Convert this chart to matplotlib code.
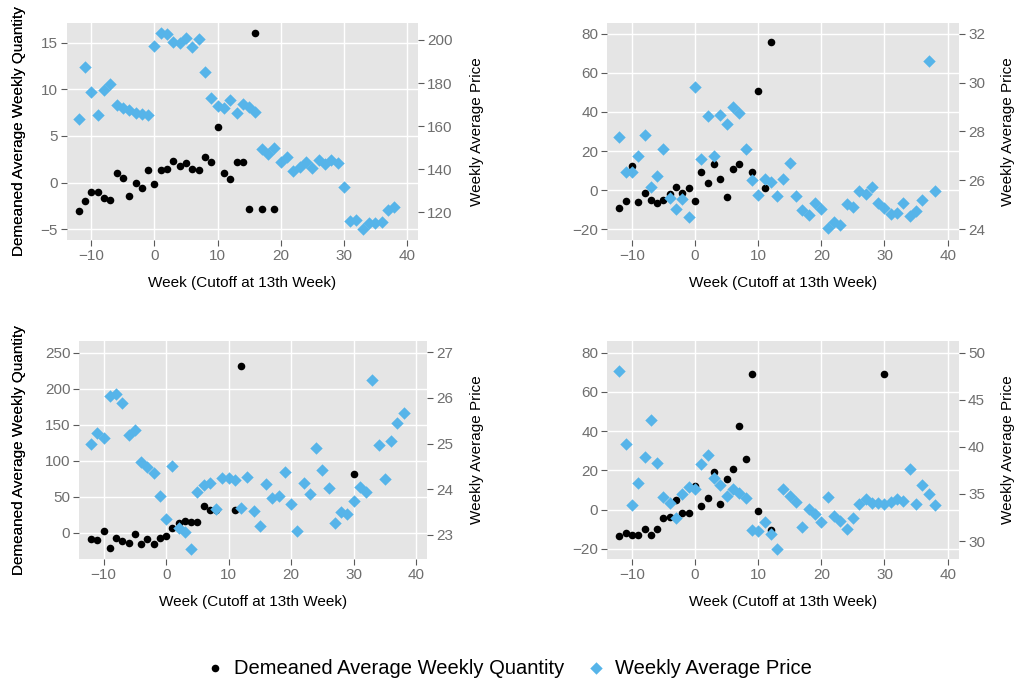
import numpy as np
import matplotlib
matplotlib.use('Agg')
import matplotlib.pyplot as plt

matplotlib.rc('font', family=['Liberation Sans', 'DejaVu Sans'])

nan = np.nan
weeks = list(range(-12, 39))

# top-left panel
q1 = [-3.0, -2.0, -1.0, -1.0, -1.6, -1.9, 1.0, 0.5, -1.4, 0.0, -0.6, 1.4,
      -0.1, 1.4, 1.5, 2.3, 1.8, 2.1, 1.5, 1.3, 2.7, 2.2, 6.0, 1.0, 0.4, 2.2,
      2.2, -2.8, 16.0, -2.8, nan, -2.8]
p1 = [163.2, 187.5, 175.9, 165.3, 176.8, 179.6, 169.8, 168.6, 167.5, 166.0,
      165.5, 165.0, 197.1, 203.1, 202.6, 199.1, 198.5, 201.1, 196.8, 200.3,
      185.1, 173.2, 169.4, 168.6, 172.1, 166.3, 170.4, 169.0, 166.6, 149.2,
      147.1, 149.7, 143.5, 145.5, 139.3, 141.2, 143.4, 140.7, 144.3, 142.3,
      144.1, 142.7, 131.7, 116.0, 116.6, 112.1, 114.9, 115.2, 115.5, 120.8,
      122.3]

# top-right panel
q2 = [-9.2, -5.4, 12.6, -5.8, -1.4, -4.9, -6.5, -5.1, -1.9, 1.4, -1.5, 1.0,
      -5.3, 9.4, 3.6, 13.6, 5.8, -3.6, 10.7, 13.3, 21.1, 9.2, 50.9, 0.9, 75.9]
p2 = [27.79, 26.34, 26.33, 27.01, 27.86, 25.74, 26.18, 27.28, 25.28, 24.82,
      25.24, 24.50, 29.80, 26.89, 28.65, 26.98, 28.67, 28.31, 28.99, 28.75,
      27.30, 26.02, 25.42, 26.07, 25.93, 25.38, 26.04, 26.71, 25.34, 24.78,
      24.60, 25.06, 24.83, 24.05, 24.30, 24.19, 25.04, 24.91, 25.58, 25.46,
      25.72, 25.08, 24.87, 24.63, 24.68, 25.06, 24.56, 24.74, 25.21, 30.88,
      25.57]

# bottom-left panel
q3 = [-8.8, -10.2, 2.8, -21.8, -7.4, -11.1, -13.9, -2.3, -15.3, -8.3, -16.2,
      -6.9, -4.2, 6.0, 13.4, 16.2, 14.4, 14.4, 37.5, 31.0, 31.5, nan, nan,
      31.0, 231.5] + [nan] * 17 + [81.5]
p3 = [25.00, 25.22, 25.11, 26.05, 26.09, 25.88, 25.18, 25.30, 24.60, 24.49,
      24.36, 23.85, 23.34, 24.50, 23.15, 23.06, 22.69, 23.93, 24.09, 24.13,
      23.57, 24.24, 24.24, 24.20, 23.59, 24.27, 23.52, 23.18, 24.11, 23.81,
      23.85, 24.37, 23.68, 23.08, 24.13, 23.89, 24.90, 24.41, 24.02, 23.25,
      23.49, 23.45, 23.73, 24.05, 23.94, 26.40, 24.96, 24.23, 25.06, 25.44,
      25.68]

# bottom-right panel
q4 = [-13.3, -12.2, -13.1, -13.1, -9.9, -13.1, -9.9, -4.4, -3.7, 4.6, -1.7,
      -1.9, 11.9, 2.0, 6.1, 19.2, 2.9, 15.8, 20.7, 42.5, 25.9, 69.2, -0.9,
      nan, -10.7] + [nan] * 17 + [69.2]
p4 = [48.05, 40.34, 33.79, 36.16, 38.96, 42.81, 38.25, 34.71, 34.04, 32.44,
      34.96, 35.77, 35.49, 38.18, 39.13, 36.73, 35.91, 34.78, 35.49, 35.13,
      34.53, 31.13, 31.03, 31.98, 30.74, 29.19, 35.49, 34.78, 34.18, 31.49,
      33.40, 32.87, 31.98, 34.67, 32.62, 32.12, 31.24, 32.41, 33.96, 34.42,
      34.00, 34.00, 33.96, 34.14, 34.46, 34.21, 37.61, 33.93, 35.95, 34.96,
      33.79]

blue = '#56B4E9'
xlabel = 'Week (Cutoff at 13th Week)'
qlabel = 'Demeaned Average Weekly Quantity'
plabel = 'Weekly Average Price'

W, H = 1017, 687
fig = plt.figure(figsize=(W / 100, H / 100), dpi=100)

# panel boxes in pixels (left, top, right, bottom) and label positions
panels = [
    dict(box=(66.7, 22.7, 418.3, 240.0), q=q1, p=p1, ql=(-6.15, 17.14),
         pl=(107.1, 208.0), qt=[-5, 0, 5, 10, 15], pt=[120, 140, 160, 180, 200],
         rlab=470.5),
    dict(box=(607.3, 22.7, 959.0, 240.0), q=q2, p=p2, ql=(-25.45, 85.6),
         pl=(23.56, 32.45), qt=[-20, 0, 20, 40, 60, 80], pt=[24, 26, 28, 30, 32],
         rlab=1000.5),
    dict(box=(79.3, 340.7, 427.3, 559.3), q=q3, p=p3, ql=(-37.0, 266.6),
         pl=(22.46, 27.255), qt=[0, 50, 100, 150, 200, 250], pt=[23, 24, 25, 26, 27],
         rlab=470.5),
    dict(box=(607.3, 340.7, 959.0, 559.3), q=q4, p=p4, ql=(-25.4, 86.1),
         pl=(28.06, 51.27), qt=[-20, 0, 20, 40, 60, 80], pt=[30, 35, 40, 45, 50],
         rlab=1000.5),
]

tick_kw = dict(labelsize=11, labelcolor='#6E6E6E', color='#5A5A5A',
               length=4.5, width=0.8, pad=2)

def minus(v):
    return str(v).replace('-', '\u2212')

for pn in panels:
    l, t, r, b = pn['box']
    pw, ph = r - l, b - t
    ax = fig.add_axes([l / W, 1 - b / H, pw / W, ph / H])
    ax.set_facecolor('#E5E5E5')
    for s in ax.spines.values():
        s.set_visible(False)
    ax.set_axisbelow(True)
    ax.grid(True, color='white', linewidth=1.0)
    xw = np.array(weeks[:len(pn['q'])])
    sc1 = ax.scatter(xw, pn['q'], s=30, color='black', marker='o',
                     linewidths=0, label=qlabel)
    ax.set_xlim(-13.9, 41.8)
    ax.set_ylim(*pn['ql'])
    xt = [-10, 0, 10, 20, 30, 40]
    ax.set_xticks(xt)
    ax.set_xticklabels([minus(v) for v in xt])
    ax.set_yticks(pn['qt'])
    ax.set_yticklabels([minus(v) for v in pn['qt']])
    ax.tick_params(**tick_kw)
    ax.set_xlabel(xlabel, fontsize=11)
    ax.set_ylabel(qlabel, fontsize=11)
    ax.yaxis.set_label_coords((26 - l) / pw, 0.5)
    ax.xaxis.set_label_coords(0.5, -36 / ph)

    ax2 = ax.twinx()
    for s in ax2.spines.values():
        s.set_visible(False)
    sc2 = ax2.scatter(np.array(weeks), pn['p'], s=40, color=blue, marker='D',
                      linewidths=0, label=plabel)
    ax2.set_ylim(*pn['pl'])
    ax2.set_yticks(pn['pt'])
    ax2.tick_params(**tick_kw)
    ax2.set_ylabel(plabel, fontsize=11)
    ax2.yaxis.set_label_coords((pn['rlab'] - l) / pw, 0.5)

fig.legend(handles=[sc1, sc2], loc='center', bbox_to_anchor=(0.5, 1 - 668 / H),
           ncol=2, frameon=False, fontsize=14.5, handlelength=1.0,
           handletextpad=0.45, columnspacing=1.1, scatterpoints=1)

fig.savefig('out.png', dpi=100)
